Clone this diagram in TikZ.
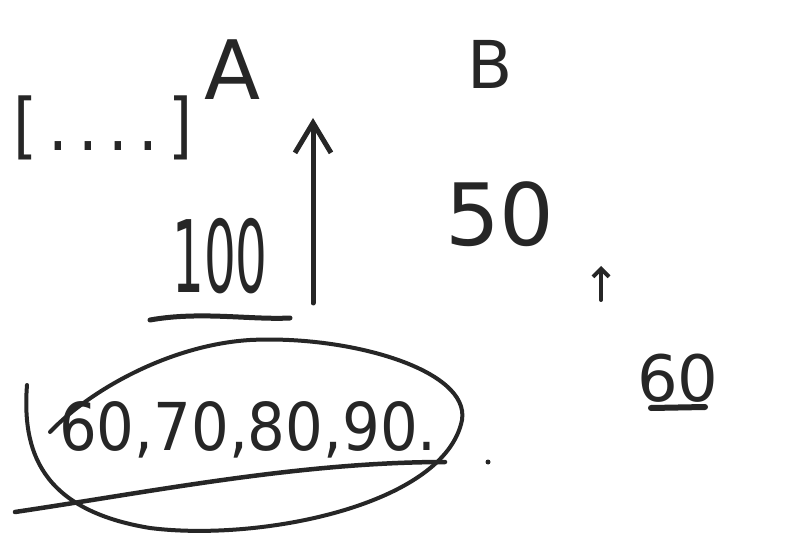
\documentclass[tikz,border=0pt]{standalone}
\usepackage{fontspec}
\setmainfont{DejaVu Sans}
\usetikzlibrary{arrows.meta}
\tikzset{
  pen/.style={line width=5pt, line cap=round, line join=round, draw=black!85},
  hw/.style={inner sep=0pt, text=black!85},
}
\newcommand{\fs}[1]{\fontsize{#1}{#1}\selectfont}
\begin{document}
\begin{tikzpicture}[x=1pt,y=-1pt]
\useasboundingbox[fill=white] (0,0) rectangle (795,537);
% labels
\node[hw] (A) at (233,70) {\fs{82}A};
\node[hw] (B) at (490,64) {\fs{66}B};
\node[hw] (list) at (103,128) {\scalebox{0.86}[1]{\fs{72}[\,.\,.\,.\,.\,]}};
\node[hw] (n100) at (220,256) {\scalebox{0.5}[1]{\fs{100}100}};
\node[hw] (n50) at (500,214) {\fs{86}50};
\node[hw] (n60) at (678,378) {\fs{64}60};
\node[hw] (seq) at (248,430) {\scalebox{0.9}[1]{\fs{66}60,70,80,90.}};
% underline under 100
\coordinate (u1) at (150,320);
\coordinate (u2) at (290,318);
\draw[pen] (u1) .. controls (200,311) and (250,320) .. (u2);
% big arrow
\coordinate (a1) at (313,303);
\coordinate (a2) at (313,118);
\draw[pen, -{Straight Barb[length=30pt,width=36pt]}] (a1) -- (a2);
% small arrow
\coordinate (s1) at (601,300);
\coordinate (s2) at (601,266);
\draw[pen, line width=4pt, -{Straight Barb[length=8pt,width=16pt]}] (s1) -- (s2);
% underline under 60
\coordinate (v1) at (651,408);
\coordinate (v2) at (705,407);
\draw[pen, line width=6pt] (v1) -- (v2);
% loop around the sequence
\coordinate (e0) at (27,385);
\coordinate (e1) at (50,432);
\draw[pen, line width=4pt] (e0) .. controls (22,450) and (40,510) .. (150,528)
  .. controls (260,542) and (445,505) .. (462,420)
  .. controls (470,370) and (350,335) .. (250,340)
  .. controls (170,345) and (90,390) .. (e1);
% line across
\coordinate (l1) at (15,512);
\coordinate (l2) at (445,462);
\draw[pen, line width=4.5pt] (l1) .. controls (150,492) and (300,462) .. (l2);
% stray dot
\fill[black!85] (488,462) circle (2.5pt);
\end{tikzpicture}
\end{document}
